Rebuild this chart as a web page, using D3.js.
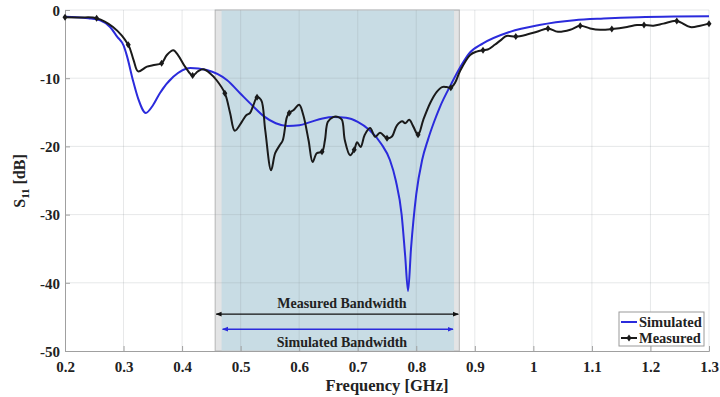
<!DOCTYPE html>
<html><head><meta charset="utf-8">
<script src="https://cdn.jsdelivr.net/npm/d3@7"></script>
<style>body{margin:0;background:#fff}svg{display:block}text{font-family:"Liberation Serif","Times New Roman",serif;font-weight:bold}</style>
</head><body>
<svg id="c" width="720" height="397"></svg>
<script>
// ---- data ----
const simFreq = [0.20,0.22,0.24,0.26,0.277,0.289,0.30,0.306,0.316,0.325,0.338,0.35,0.362,0.385,0.414,0.442,0.477,0.499,0.52,0.54,0.56,0.58,0.60,0.62,0.64,0.66,0.68,0.70,0.72,0.74,0.755,0.765,0.775,0.781,0.786,0.791,0.80,0.81,0.82,0.83,0.84,0.86,0.875,0.89,0.914,0.96,1.01,1.07,1.12,1.18,1.24,1.30];
const simVal  = [-1.0,-1.05,-1.2,-1.5,-2.5,-3.9,-5.2,-6.8,-10.3,-13.0,-15.1,-14.0,-12.2,-9.8,-8.5,-8.8,-10.3,-12.2,-14.0,-15.6,-16.6,-17.0,-16.9,-16.4,-15.9,-15.7,-15.8,-16.4,-17.6,-19.6,-22.0,-25.0,-30.0,-36.0,-41.2,-35.0,-27.0,-22.0,-19.0,-16.5,-14.3,-10.8,-8.4,-6.4,-4.9,-3.2,-2.2,-1.5,-1.25,-1.05,-0.95,-0.9];

const measFreq = [0.20,0.225,0.254,0.282,0.308,0.317,0.325,0.34,0.35,0.365,0.374,0.385,0.393,0.405,0.418,0.427,0.436,0.448,0.459,0.473,0.482,0.49,0.502,0.51,0.516,0.522,0.528,0.535,0.542,0.552,0.559,0.567,0.572,0.579,0.583,0.59,0.60,0.607,0.616,0.623,0.63,0.639,0.644,0.649,0.658,0.667,0.673,0.678,0.687,0.694,0.699,0.705,0.712,0.721,0.73,0.738,0.75,0.758,0.767,0.776,0.781,0.788,0.795,0.803,0.812,0.824,0.835,0.844,0.852,0.859,0.866,0.875,0.892,0.903,0.914,0.922,0.934,0.946,0.954,0.97,0.989,1.006,1.025,1.042,1.063,1.08,1.097,1.114,1.134,1.16,1.177,1.189,1.205,1.222,1.245,1.268,1.285,1.30];
const measVal  = [-1.07,-1.1,-1.2,-2.5,-5.1,-7.3,-9.0,-8.3,-8.1,-7.8,-6.6,-5.9,-6.6,-8.3,-9.6,-9.0,-8.7,-9.3,-10.3,-12.2,-15.1,-17.7,-16.4,-15.4,-15.1,-13.9,-12.8,-13.2,-17.6,-23.5,-21.0,-19.8,-19.1,-15.7,-15.1,-14.7,-13.9,-15.4,-19.1,-22.3,-21.0,-20.8,-19.1,-16.4,-15.7,-15.7,-16.1,-19.1,-21.3,-20.5,-19.4,-20.1,-18.3,-17.3,-18.6,-18.0,-18.8,-18.6,-16.9,-16.3,-16.6,-16.1,-17.1,-18.3,-16.1,-13.6,-12.0,-11.3,-11.3,-11.4,-10.7,-8.9,-6.6,-6.1,-5.9,-5.8,-5.1,-4.3,-3.8,-3.9,-3.6,-3.2,-2.7,-3.2,-2.9,-2.3,-2.7,-2.9,-2.8,-2.5,-2.2,-2.2,-2.3,-2.0,-1.6,-2.5,-2.3,-2.0];
const measMarkers = [0.20,0.254,0.308,0.365,0.418,0.473,0.528,0.583,0.639,0.694,0.75,0.803,0.859,0.914,0.97,1.025,1.08,1.134,1.189,1.245,1.30];

const xTicks = [0.2,0.3,0.4,0.5,0.6,0.7,0.8,0.9,1,1.1,1.2,1.3];
const yTicks = [0,-10,-20,-30,-40,-50];
const measBand = [0.4565,0.8735];
const simBand = [0.4675,0.8645];
const labels = {x:"Frequency [GHz]", meas:"Measured Bandwidth", sim:"Simulated Bandwidth"};

// ---- layout ----
const W=720,H=397,m={l:65,r:11,t:10,b:46};
const svg=d3.select("#c");
const x=d3.scaleLinear().domain([0.2,1.3]).range([m.l,W-m.r]);
const y=d3.scaleLinear().domain([-50,0]).range([H-m.b,m.t]);
const blue="#2b2bdc", black="#1a1a1a";

// bands
svg.append("rect").attr("x",x(measBand[0])).attr("y",y(0)).attr("width",x(measBand[1])-x(measBand[0])).attr("height",y(-50)-y(0))
  .attr("fill","#e3e4e5").attr("stroke","#b5b5b5").attr("stroke-width",1);
svg.append("rect").attr("x",x(simBand[0])).attr("y",y(0)+0.5).attr("width",x(simBand[1])-x(simBand[0])).attr("height",y(-50)-y(0)-1)
  .attr("fill","#c8dce4");

// grid
const g=svg.append("g");
g.selectAll(".vg").data(xTicks.slice(1)).join("line").attr("x1",d=>x(d)).attr("x2",d=>x(d)).attr("y1",y(0)).attr("y2",y(-50))
  .attr("stroke","rgba(140,150,155,0.22)").attr("stroke-width",1);
g.selectAll(".hg").data(yTicks.slice(0,-1)).join("line").attr("x1",x(0.2)).attr("x2",x(1.3)).attr("y1",d=>y(d)).attr("y2",d=>y(d))
  .attr("stroke","rgba(140,150,155,0.22)").attr("stroke-width",1);

// axes
const xa=svg.append("g").attr("transform",`translate(0,${y(-50)})`)
  .call(d3.axisBottom(x).tickValues(xTicks).tickSize(-5).tickPadding(10).tickFormat(d=>String(d)));
const ya=svg.append("g").attr("transform",`translate(${x(0.2)},0)`)
  .call(d3.axisLeft(y).tickValues(yTicks).tickSize(-5).tickPadding(5).tickFormat(d=>String(d)));
[xa,ya].forEach(a=>{a.select(".domain").attr("stroke","#a0a0a0");a.selectAll(".tick line").attr("stroke","#a0a0a0");
  a.selectAll("text").attr("font-size",15).attr("fill","#222").attr("font-family",'"Liberation Serif",serif').attr("font-weight","bold");});
ya.selectAll("text").attr("dy","0.35em");

// axis labels
svg.append("text").attr("x",387).attr("y",391).attr("text-anchor","middle").attr("font-size",16.5).attr("fill","#222").text(labels.x);
const yl=svg.append("text").attr("transform","translate(25,181) rotate(-90)").attr("text-anchor","middle").attr("font-size",16).attr("fill","#222");
yl.append("tspan").text("S");
yl.append("tspan").attr("font-size",11).attr("dy",4).text("11");
yl.append("tspan").attr("dy",-4).text(" [dB]");

// arrows
const defs=svg.append("defs");
function mk(id,col){
  defs.append("marker").attr("id",id).attr("viewBox","0 0 10 10").attr("refX",9).attr("refY",5).attr("markerWidth",6).attr("markerHeight",6)
   .attr("orient","auto-start-reverse").attr("markerUnits","userSpaceOnUse")
   .append("path").attr("d","M0,1L10,5L0,9Z").attr("fill",col);
}
mk("ab","#111");mk("abl",blue);
svg.append("line").attr("x1",x(measBand[0])+1).attr("x2",x(measBand[1])-1).attr("y1",y(-44.6)).attr("y2",y(-44.6))
  .attr("stroke","#111").attr("stroke-width",1.4).attr("marker-start","url(#ab)").attr("marker-end","url(#ab)");
svg.append("line").attr("x1",x(simBand[0])+1).attr("x2",x(simBand[1])-1).attr("y1",y(-46.8)).attr("y2",y(-46.8))
  .attr("stroke",blue).attr("stroke-width",1.4).attr("marker-start","url(#abl)").attr("marker-end","url(#abl)");
svg.append("text").attr("x",342).attr("y",y(-43.0)+5).attr("text-anchor","middle").attr("font-size",14).attr("fill","#222").text(labels.meas);
svg.append("text").attr("x",342).attr("y",y(-48.7)+5).attr("text-anchor","middle").attr("font-size",14).attr("fill","#222").text(labels.sim);

// curves
const sim=simFreq.map((f,i)=>[f,simVal[i]]);
const meas=measFreq.map((f,i)=>[f,measVal[i]]);
svg.append("path").attr("d",d3.line().x(d=>x(d[0])).y(d=>y(d[1])).curve(d3.curveMonotoneX)(sim))
  .attr("fill","none").attr("stroke",blue).attr("stroke-width",2);
svg.append("path").attr("d",d3.line().x(d=>x(d[0])).y(d=>y(d[1])).curve(d3.curveCatmullRom.alpha(0.5))(meas))
  .attr("fill","none").attr("stroke",black).attr("stroke-width",2);
const mpts=meas.filter(d=>measMarkers.some(f=>Math.abs(f-d[0])<1e-6));
svg.selectAll(".mk").data(mpts).join("path").attr("transform",d=>`translate(${x(d[0])},${y(d[1])})`)
  .attr("d","M0,-3.5L2.5,0L0,3.5L-2.5,0Z").attr("fill",black);

// legend
const lg=svg.append("g").attr("transform","translate(619,312)");
lg.append("rect").attr("width",85).attr("height",34).attr("fill","#fff").attr("stroke","#9a9a9a");
lg.append("line").attr("x1",2).attr("x2",18).attr("y1",10).attr("y2",10).attr("stroke",blue).attr("stroke-width",2);
lg.append("line").attr("x1",2).attr("x2",18).attr("y1",26).attr("y2",26).attr("stroke",black).attr("stroke-width",2);
lg.append("path").attr("transform","translate(10,26)").attr("d","M0,-3.5L2.5,0L0,3.5L-2.5,0Z").attr("fill",black);
lg.append("text").attr("x",20).attr("y",15).attr("font-size",14.5).attr("fill","#222").text("Simulated");
lg.append("text").attr("x",20).attr("y",31).attr("font-size",14.5).attr("fill","#222").text("Measured");
</script>
</body></html>
